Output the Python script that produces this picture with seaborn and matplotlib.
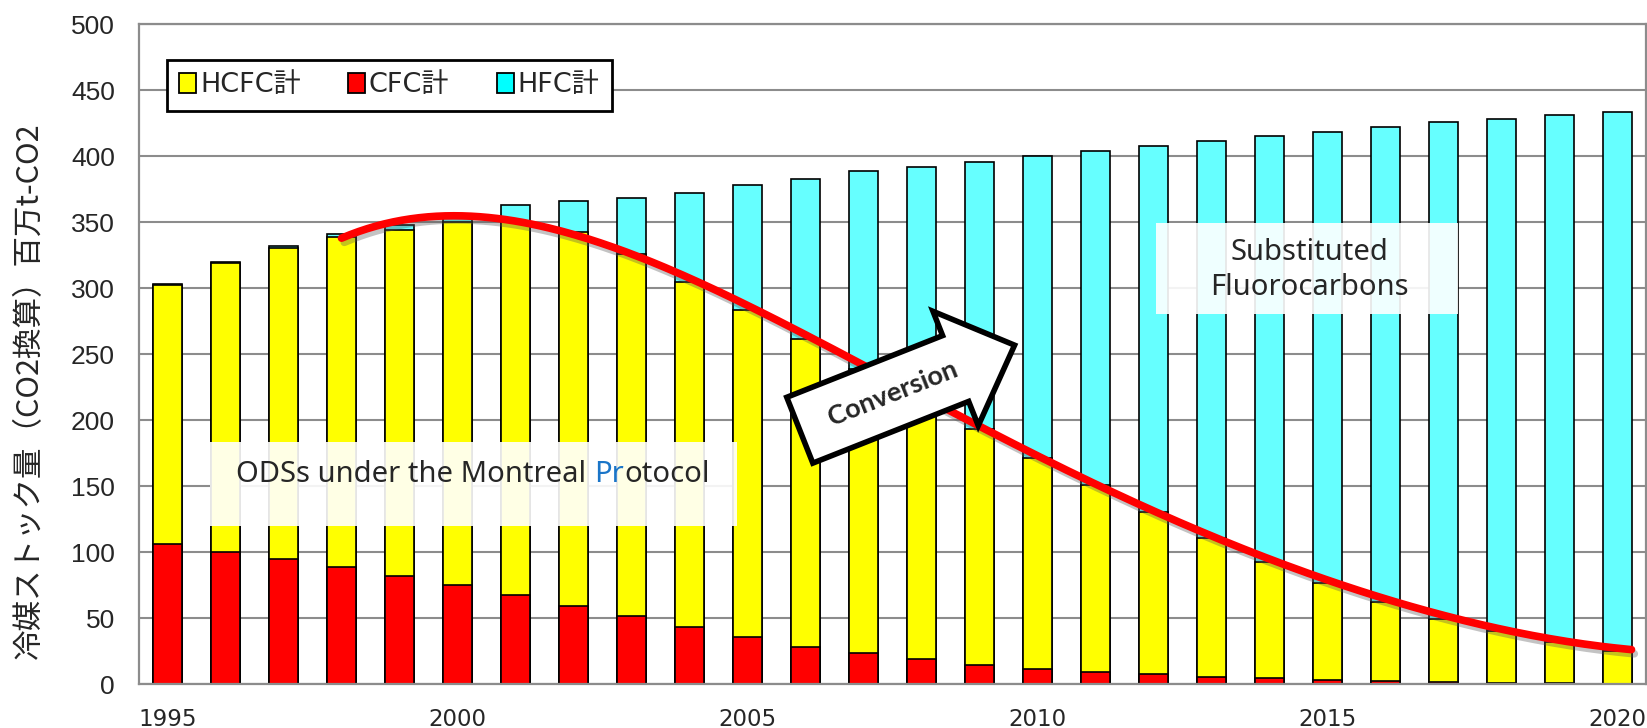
import numpy as np
import pandas as pd
import matplotlib
matplotlib.use("Agg")
import matplotlib.pyplot as plt
import matplotlib.patheffects as pe
from matplotlib.patches import Patch, Rectangle, Polygon
import seaborn as sns

# ---- data (million t-CO2 equivalent) ----
years = list(range(1995, 2021))
cfc = [106.1, 100.0, 94.4, 88.9, 81.8, 74.7, 67.2, 59.3, 51.3, 43.2, 35.4, 28.3, 23.2,
       18.7, 14.6, 11.6, 9.1, 7.5, 5.5, 4.4, 2.7, 1.9, 1.3, 0.8, 0.5, 0.3]
hcfc = [196.4, 219.0, 235.6, 250.1, 262.2, 275.3, 283.8, 283.0, 274.2, 261.6, 247.9, 233.1,
        215.8, 197.3, 178.3, 159.6, 141.6, 122.8, 105.3, 88.2, 73.5, 60.3, 48.3, 39.1, 31.0, 24.8]
hfc = [0.5, 1.0, 1.6, 2.2, 3.5, 4.0, 11.6, 23.8, 42.7, 67.2, 94.5, 121.4, 149.3, 175.7,
       202.6, 228.5, 253.1, 277.2, 300.2, 322.2, 342.3, 359.8, 375.9, 388.4, 399.3, 408.2]
tick_years = [1995, 2000, 2005, 2010, 2015, 2020]
series_labels = ["HCFC計", "CFC計", "HFC計"]
y_label = "冷媒ストック量（CO2換算）百万t-CO2"

YELLOW, RED, CYAN = "#ffff00", "#ff0000", "#66ffff"

df = pd.DataFrame({"year": [str(y) for y in years], "cfc": cfc, "hcfc": hcfc, "hfc": hfc})
df["ods"] = df["cfc"] + df["hcfc"]
df["total"] = df["ods"] + df["hfc"]

sns.set_style("white")
plt.rcParams["font.family"] = ["DejaVu Sans", "Noto Sans CJK JP"]

W, H = 1647, 728
fig = plt.figure(figsize=(W / 100, H / 100), dpi=100)
ax_left, ax_right, ax_top, ax_bottom = 138.6, 1646.0, 24.0, 684.0
ax = fig.add_axes([ax_left / W, 1 - ax_bottom / H, (ax_right - ax_left) / W, (ax_bottom - ax_top) / H])

# stacked bars: cumulative totals drawn back to front
bar_kw = dict(ax=ax, saturation=1, width=0.5, edgecolor="black", linewidth=1.2, errorbar=None)
sns.barplot(data=df, x="year", y="total", color=CYAN, **bar_kw)
sns.barplot(data=df, x="year", y="ods", color=YELLOW, **bar_kw)
sns.barplot(data=df, x="year", y="cfc", color=RED, **bar_kw)

ax.set_xlim(-0.5, len(years) - 0.5)
ax.set_ylim(0, 500)
ax.set_yticks(np.arange(0, 501, 50))
ax.set_xticks([years.index(y) for y in tick_years])
ax.set_xticklabels([str(y) for y in tick_years], fontsize=16.5)
for lbl in ax.get_yticklabels():
    lbl.set_fontfamily(["Liberation Sans Narrow", "Liberation Sans"])
    lbl.set_fontsize(19)
ax.tick_params(axis="x", length=0, pad=17)
ax.tick_params(axis="y", length=0, pad=17)
ax.set_xlabel("")
ax.set_ylabel(y_label, fontsize=22, family=["Noto Sans CJK JP", "DejaVu Sans"])
ax.yaxis.set_label_coords(-0.062, 0.445)

ax.yaxis.grid(True, color="#8c8c8c", linewidth=1.5)
ax.xaxis.grid(False)
ax.set_axisbelow(True)
for s in ax.spines.values():
    s.set_visible(True)
    s.set_color("#8c8c8c")
    s.set_linewidth(1.6)

# legend
handles = [Patch(facecolor=c, edgecolor="black", linewidth=1.3, label=l)
           for c, l in zip([YELLOW, RED, "#00ffff"], series_labels)]
leg = ax.legend(handles=handles, loc="upper left", bbox_to_anchor=(0.0188, 0.945), ncol=3,
                frameon=True, fancybox=False, edgecolor="black", framealpha=1,
                borderaxespad=0, borderpad=0.45, handlelength=0.62, handleheight=0.72,
                handletextpad=0.15, columnspacing=1.75,
                prop={"family": ["DejaVu Sans", "Noto Sans CJK JP"], "size": 19.5})
leg.get_frame().set_linewidth(2)

# trend of ODS stock (HCFC + CFC) as a smooth red curve
idx = np.arange(len(years))
ods = df["ods"].to_numpy()
coef = np.polyfit(idx[3:], ods[3:], 5)
xc = np.linspace(3, len(years) - 0.75, 300)
ax.plot(xc, np.polyval(coef, xc) + 2, color="#ff0000", lw=5.5, solid_capstyle="round", zorder=5,
        path_effects=[pe.SimpleLineShadow(offset=(2, -3), shadow_color="#555555", alpha=0.35),
                      pe.Normal()])

# translucent text panels
def px_to_data(px, py):
    cw = (ax_right - ax_left) / len(years)
    return (px - ax_left) / cw - 0.5, (ax_bottom - py) / ((ax_bottom - ax_top) / 500)

x0, y0 = px_to_data(210, 526)
x1, y1 = px_to_data(737, 442)
ax.add_patch(Rectangle((x0, y0), x1 - x0, y1 - y0, facecolor="white", alpha=0.9,
                       edgecolor="none", zorder=4))
tx, ty = px_to_data(236, 475)
text_kw = dict(fontsize=21, family=["Noto Sans", "DejaVu Sans"], zorder=6)
t1 = ax.text(tx, ty, "ODSs under the Montreal", ha="left", va="center", **text_kw)
t2 = ax.annotate("Pr", xy=(1, 0), xycoords=t1, xytext=(6, 0), textcoords="offset points",
                 ha="left", va="bottom", color="#1a75c8", **text_kw)
ax.annotate("otocol", xy=(1, 0), xycoords=t2, ha="left", va="bottom", **text_kw)

x0, y0 = px_to_data(1156, 314)
x1, y1 = px_to_data(1458, 223)
ax.add_patch(Rectangle((x0, y0), x1 - x0, y1 - y0, facecolor="white", alpha=0.9,
                       edgecolor="none", zorder=4))
tx, ty = px_to_data(1309, 270)
ax.text(tx, ty, "Substituted\nFluorocarbons", ha="center", va="center", linespacing=1.3,
        **text_kw)

# block arrow labelled "Conversion"
def block_arrow(tail, angle_deg, length, shaft_w, head_w, head_len):
    a = np.deg2rad(angle_deg)
    u = np.array([np.cos(a), np.sin(a)])
    n = np.array([-u[1], u[0]])
    base = length - head_len
    local = [(0, -shaft_w / 2), (base, -shaft_w / 2), (base, -head_w / 2), (length, 0),
             (base, head_w / 2), (base, shaft_w / 2), (0, shaft_w / 2)]
    return np.array([np.array(tail) + p * u + q * n for p, q in local])

ang = 21.6
pts = block_arrow((799.8, H - 430.2), ang, 231, 70.8, 123, 63.4)
pts = pts / np.array([W, H])
ax.add_patch(Polygon(pts, closed=True, facecolor="white", edgecolor="black", linewidth=4,
                     joinstyle="miter", transform=fig.transFigure, clip_on=False, zorder=7))
ax.text(892.5 / W, (H - 393.3) / H, "Conversion", transform=fig.transFigure, rotation=ang,
        rotation_mode="anchor", ha="center", va="center", fontsize=19.5, fontweight="bold",
        family=["Lato", "DejaVu Sans"], zorder=8)

fig.savefig("out.png", dpi=100, facecolor="white")
